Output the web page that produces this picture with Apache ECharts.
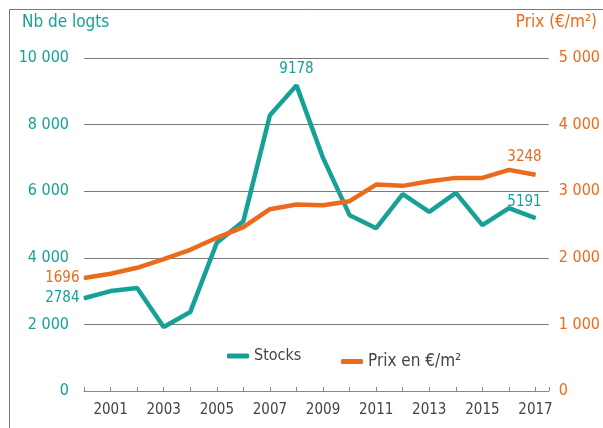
<!DOCTYPE html>
<html><head><meta charset="utf-8">
<script src="https://cdn.jsdelivr.net/npm/echarts@6/dist/echarts.min.js"></script>
<style>html,body{margin:0;padding:0;background:#fff}#c{width:603px;height:428px}</style>
</head><body><div id="c"></div>
<script>
const years = [2000,2001,2002,2003,2004,2005,2006,2007,2008,2009,2010,2011,2012,2013,2014,2015,2016,2017];
const stocks = [2784,3000,3090,1920,2370,4450,5100,8280,9178,7000,5280,4890,5910,5380,5950,4980,5490,5191];
const prix = [1696,1760,1850,1980,2120,2300,2460,2730,2800,2790,2850,3100,3080,3150,3200,3200,3320,3248];
const leftTicks = [0,2000,4000,6000,8000,10000];
const rightTicks = [0,1000,2000,3000,4000,5000];
const labelledStocks = {2000:'left',2008:'top',2017:'top'};
const labelledPrix = {2000:'left',2017:'top'};

const TEAL = '#17a096', ORANGE = '#ec6a1c';
const FONT = '"DejaVu Sans Condensed","Liberation Sans Narrow","Open Sans",sans-serif';
const fmt = v => v === 0 ? '0' : String(v).replace(/\B(?=(\d{3})+(?!\d))/g, ' ');

function buildData(vals, labelled, color, topDist){
  return years.map((y,i)=>{
    const p = labelled[y];
    if (!p) return {value:[y,vals[i]], label:{show:false}};
    const off = (p === 'top' && y === 2017) ? [-11, 0] : [0, 0];
    return {value:[y,vals[i]], label:{show:true, position:p, distance:p==='left'?4:topDist, offset:off,
      color:color, fontSize:15, fontFamily:FONT, formatter:String(vals[i])}};
  });
}

const chart = echarts.init(document.getElementById('c'), null, {renderer:'canvas'});
chart.setOption({
  animation:false,
  textStyle:{fontFamily:FONT},
  grid:{left:84, right:54, top:58, bottom:37, containLabel:false},
  graphic:[
    {type:'line', shape:{x1:9.5,y1:9.5,x2:603,y2:9.5}, style:{stroke:'#777',lineWidth:1}},
    {type:'line', shape:{x1:9.5,y1:9.5,x2:9.5,y2:428}, style:{stroke:'#777',lineWidth:1}},
    {type:'text', left:22, top:14, style:{text:'Nb de logts', fill:TEAL, font:'17px '+FONT}},
    {type:'text', right:6, top:14, style:{text:'Prix (€/m²)', fill:ORANGE, font:'17px '+FONT}}
  ],
  legend:[
    {data:['Stocks'], left:222, top:343, icon:'roundRect', itemWidth:22, itemHeight:5, itemGap:8,
     textStyle:{color:'#444', fontSize:16, fontFamily:FONT}},
    {data:['Prix en €/m²'], left:336, top:348, icon:'roundRect', itemWidth:22, itemHeight:5, itemGap:10,
     textStyle:{color:'#444', fontSize:17, fontFamily:FONT}}
  ],
  xAxis:{
    type:'value', min:2000, max:2017.5, interval:1,
    axisLine:{show:true, lineStyle:{color:'#888', width:1}},
    axisTick:{show:true, inside:true, length:4, lineStyle:{color:'#888'}},
    splitLine:{show:false},
    axisLabel:{color:'#444', fontSize:15, margin:12, fontFamily:FONT,
      formatter:v => (Number.isInteger(v) && v % 2 === 1) ? String(v) : ''}
  },
  yAxis:[
    {type:'value', min:0, max:10000, interval:2000, position:'left',
     axisLine:{show:false}, axisTick:{show:false},
     splitLine:{show:true, lineStyle:{color:'#7a7a7a', width:1}},
     axisLabel:{color:TEAL, fontSize:16, margin:15, fontFamily:FONT,
       formatter:v => leftTicks.includes(v) ? fmt(v) : ''}},
    {type:'value', min:0, max:5000, interval:1000, position:'right', offset:0,
     axisLine:{show:false}, axisTick:{show:false}, splitLine:{show:false},
     axisLabel:{color:ORANGE, fontSize:16, margin:10, fontFamily:FONT,
       formatter:v => rightTicks.includes(v) ? fmt(v) : ''}}
  ],
  series:[
    {name:'Stocks', type:'line', yAxisIndex:0, symbol:'circle', symbolSize:1, showSymbol:true,
     itemStyle:{color:TEAL, opacity:1}, color:TEAL,
     lineStyle:{width:4.5, color:TEAL},
     label:{show:false},
     data:buildData(stocks, labelledStocks, TEAL, 8), z:3},
    {name:'Prix en €/m²', type:'line', yAxisIndex:1, symbol:'circle', symbolSize:1, showSymbol:true,
     itemStyle:{color:ORANGE, opacity:1}, color:ORANGE,
     lineStyle:{width:4.5, color:ORANGE},
     label:{show:false},
     data:buildData(prix, labelledPrix, ORANGE, 10), z:4}
  ]
});
</script></body></html>
